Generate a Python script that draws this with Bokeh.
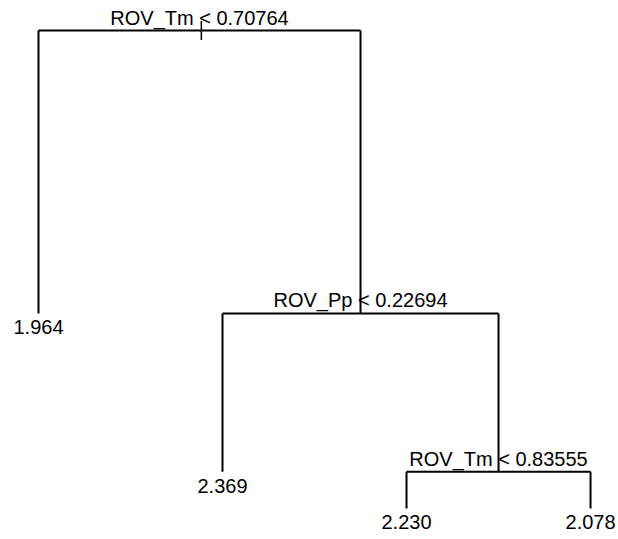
from bokeh.plotting import figure
from bokeh.models import ColumnDataSource, Range1d
from bokeh.embed import file_html
from bokeh.resources import INLINE
from bokeh.core.properties import value

# Regression tree (rpart style): internal splits and leaf predictions
split_labels = ["ROV_Tm < 0.70764", "ROV_Pp < 0.22694", "ROV_Tm < 0.83555"]
leaf_values = [1.964, 2.369, 2.230, 2.078]

# Tree structure: node ids, children (None for leaves)
# node 0 = root, 1 = leaf, 2 = split, 3 = leaf, 4 = split, 5 = leaf, 6 = leaf
children = {0: (1, 2), 2: (3, 4), 4: (5, 6)}
split_nodes = [0, 2, 4]
leaf_nodes = [1, 3, 5, 6]

# Node heights from the deviance reduction of each split (root = 1)
level_height = [1.0, 0.408, 0.077, 0.0]

# Leaf x positions are their order; internal nodes sit midway between children
node_x = {}
for i, n in enumerate(leaf_nodes):
    node_x[n] = float(i + 1)


def place(n):
    if n in node_x:
        return node_x[n]
    l, r = children[n]
    node_x[n] = (place(l) + place(r)) / 2.0
    return node_x[n]


place(0)

node_y = {0: level_height[0]}
for parent in split_nodes:
    l, r = children[parent]
    depth = level_height.index(node_y[parent]) + 1
    node_y[l] = level_height[depth]
    node_y[r] = level_height[depth]

# Segments: horizontal bar at every split, vertical drop to each child
x0, y0, x1, y1 = [], [], [], []
for parent in split_nodes:
    l, r = children[parent]
    py = node_y[parent]
    x0.append(node_x[l]); y0.append(py); x1.append(node_x[r]); y1.append(py)
    for c in (l, r):
        x0.append(node_x[c]); y0.append(py); x1.append(node_x[c]); y1.append(node_y[c])

p = figure(width=618, height=539, output_backend="svg", toolbar_location=None,
           x_range=Range1d(0.7935, 4.152), y_range=Range1d(-0.0649, 1.0628),
           min_border=0)
p.axis.visible = False
p.grid.visible = False
p.outline_line_color = None
p.background_fill_color = "white"
p.border_fill_color = "white"

p.segment(x0=x0, y0=y0, x1=x1, y1=y1, line_color="black", line_width=2)

# Short stub marking the root node
stub = 0.02
p.segment(x0=[node_x[0] + 0.01], y0=[node_y[0] + stub], x1=[node_x[0] + 0.01],
          y1=[node_y[0] - stub], line_color="black", line_width=1.5)

split_src = ColumnDataSource(dict(
    x=[node_x[n] for n in split_nodes],
    y=[node_y[n] for n in split_nodes],
    text=split_labels,
))
p.text(x="x", y="y", text="text", source=split_src, text_align="center",
       text_baseline="alphabetic", y_offset=-13, text_font=value("Liberation Sans"),
       text_font_size="20px", text_color="black")

leaf_src = ColumnDataSource(dict(
    x=[node_x[n] for n in leaf_nodes],
    y=[node_y[n] for n in leaf_nodes],
    text=[f"{v:.3f}" for v in leaf_values],
))
p.text(x="x", y="y", text="text", source=leaf_src, text_align="center",
       text_baseline="alphabetic", y_offset=14, text_font=value("Liberation Sans"),
       text_font_size="20px", text_color="black")

open("out.html", "w").write(file_html(p, INLINE))
